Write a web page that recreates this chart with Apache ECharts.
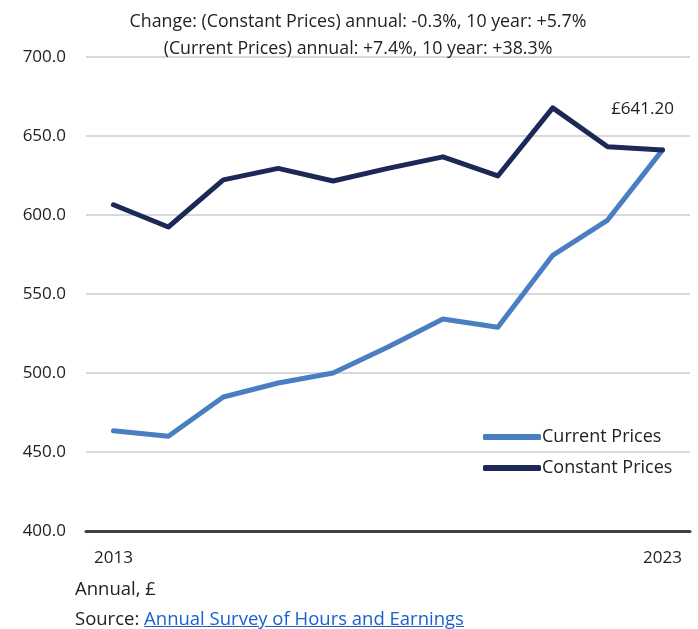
<!DOCTYPE html>
<html>
<head>
<meta charset="utf-8">
<script src="https://cdn.jsdelivr.net/npm/echarts@6/dist/echarts.min.js"></script>
<style>
  html, body { margin: 0; padding: 0; background: #fff; }
  #chart { position: absolute; left: 0; top: 0; width: 698px; height: 629px; }
  .note { position: absolute; left: 75px; font-family: "Open Sans", "Noto Sans", sans-serif; font-size: 18.5px; color: #222; }
  .note a { color: #1a5fd0; text-decoration: underline; }
</style>
</head>
<body>
<div id="chart"></div>
<div class="note" style="top: 575px;">Annual, £</div>
<div class="note" style="top: 605px;">Source: <a href="#">Annual Survey of Hours and Earnings</a></div>
<script>
const years = ["2013", "2014", "2015", "2016", "2017", "2018", "2019", "2020", "2021", "2022", "2023"];
const currentPrices = [463.5, 460.0, 484.8, 493.7, 500.0, 516.5, 534.2, 529.0, 574.5, 596.8, 641.2];
const constantPrices = [606.5, 592.4, 622.2, 629.5, 621.5, 629.5, 636.8, 624.7, 667.8, 643.2, 641.2];
const titleLines = [
  "Change: (Constant Prices) annual: -0.3%, 10 year: +5.7%",
  "(Current Prices) annual: +7.4%, 10 year: +38.3%"
];

const font = '"Open Sans", "Noto Sans", sans-serif';
const chart = echarts.init(document.getElementById("chart"));

chart.setOption({
  animation: false,
  backgroundColor: "#fff",
  title: {
    text: titleLines.join("\n"),
    left: 353,
    top: 3,
    textAlign: "center",
    textStyle: { fontFamily: font, fontSize: 17.8, fontWeight: "normal", color: "#222", lineHeight: 27 }
  },
  grid: { left: 86, right: 8, top: 57, bottom: 98 },
  legend: {
    orient: "vertical",
    left: 478,
    top: 423,
    itemWidth: 58,
    itemHeight: 6,
    itemGap: 13,
    icon: "roundRect",
    textStyle: { fontFamily: font, fontSize: 18, color: "#222", padding: [0, 0, 0, -4] },
    data: ["Current Prices", "Constant Prices"]
  },
  xAxis: {
    type: "category",
    data: years,
    boundaryGap: true,
    axisLine: { lineStyle: { color: "#404040", width: 3 } },
    axisTick: { show: false },
    axisLabel: {
      interval: 0,
      formatter: (v, i) => (i === 0 || i === years.length - 1 ? v : ""),
      fontFamily: font, fontSize: 17, color: "#222", margin: 19
    }
  },
  yAxis: {
    type: "value",
    min: 400,
    max: 700,
    interval: 50,
    axisLine: { show: false },
    axisTick: { show: false },
    splitLine: { lineStyle: { color: "#d9d9d9", width: 2 } },
    axisLabel: {
      formatter: v => v.toFixed(1),
      fontFamily: font, fontSize: 17, color: "#222", margin: 20
    }
  },
  series: [
    {
      name: "Current Prices",
      type: "line",
      data: currentPrices,
      symbol: "none",
      color: "#4a7ec2",
      lineStyle: { width: 5, color: "#4a7ec2", cap: "round", join: "round" }
    },
    {
      name: "Constant Prices",
      type: "line",
      data: constantPrices,
      symbol: "none",
      color: "#1c2856",
      lineStyle: { width: 5, color: "#1c2856", cap: "round", join: "round" },
      endLabel: {
        show: true,
        formatter: p => "£" + Number(p.value).toFixed(2),
        fontFamily: font, fontSize: 17, color: "#222",
        align: "center",
        offset: [-28, -41]
      }
    }
  ]
});
</script>
</body>
</html>
